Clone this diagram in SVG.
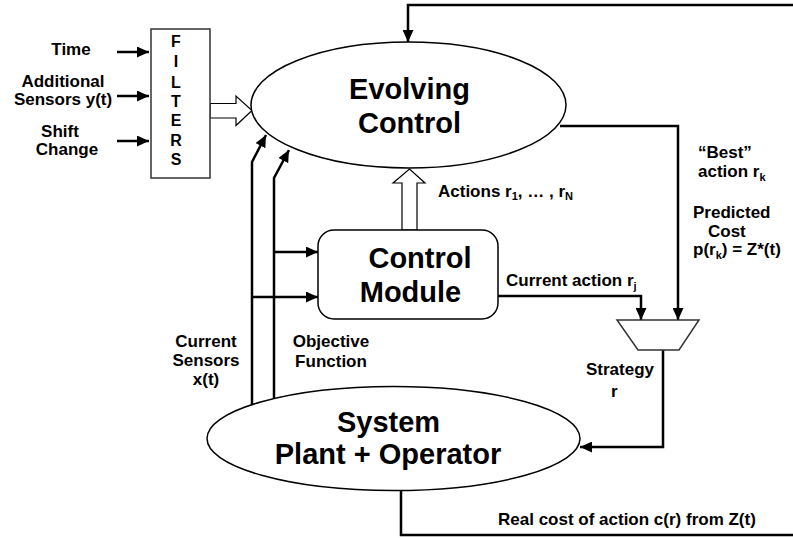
<svg xmlns="http://www.w3.org/2000/svg" width="793" height="538" viewBox="0 0 793 538">
<defs>
<marker id="ah" markerUnits="userSpaceOnUse" markerWidth="12" markerHeight="11" refX="12" refY="5.5" orient="auto">
<path d="M0,0 L12,5.5 L0,11 z" fill="#000"/>
</marker>
<style>
.t{font-family:"Liberation Sans",Arial,sans-serif;font-weight:bold;fill:#000}
.big{font-size:29px}
.lab{font-size:17px}
.shape{fill:#fff;stroke:#000;stroke-width:1.5}
.con{fill:none;stroke:#000;stroke-width:2.5}
.hollow{fill:#fff;stroke:#000;stroke-width:1.2}
</style>
</defs>
<rect width="793" height="538" fill="#fff"/>

<g id="connectors">
<path class="con" d="M117,52 L149,52" marker-end="url(#ah)"/>
<path class="con" d="M117,96 L149,96" marker-end="url(#ah)"/>
<path class="con" d="M117,141 L149,141" marker-end="url(#ah)"/>
<path class="con" d="M793,5 L408,5 L408,42" marker-end="url(#ah)"/>
<path class="con" d="M560,126 L678,126 L678,320" marker-end="url(#ah)"/>
<path class="con" d="M498,296 L641,296 L641,320" marker-end="url(#ah)"/>
<path class="con" d="M663,350 L663,447 L580,447" marker-end="url(#ah)"/>
<path class="con" d="M401,490 L401,535 L793,535"/>
<path class="con" d="M252,405 L252,162 L266,135" marker-end="url(#ah)"/>
<path class="con" d="M274,399 L274,178 L289,150" marker-end="url(#ah)"/>
<path class="con" d="M274,252 L318,252" marker-end="url(#ah)"/>
<path class="con" d="M252,297 L318,297" marker-end="url(#ah)"/>
<polygon class="hollow" points="210,103.5 236,103.5 236,96 252,110.5 236,125.5 236,118 210,118"/>
<polygon class="hollow" points="402,230 402,183 393,183 409.5,169 425,183 417,183 417,230"/>
</g>

<g id="inputs">
<text class="t lab" x="71" y="55" text-anchor="middle">Time</text>
<text class="t lab" x="63" y="87" text-anchor="middle">Additional</text>
<text class="t lab" x="63" y="105" text-anchor="middle">Sensors y(t)</text>
<text class="t lab" x="60" y="137" text-anchor="middle">Shift</text>
<text class="t lab" x="67" y="155" text-anchor="middle">Change</text>
</g>

<g id="filters">
<rect x="151" y="29" width="59" height="149" fill="#fff" stroke="#333" stroke-width="1.5"/>
<g class="t" font-size="16" text-anchor="middle">
<text x="176" y="47">F</text>
<text x="176" y="67">I</text>
<text x="176" y="88">L</text>
<text x="176" y="107">T</text>
<text x="176" y="126">E</text>
<text x="176" y="146">R</text>
<text x="176" y="165">S</text>
</g>
</g>

<g id="evolving-control">
<ellipse class="shape" cx="408.5" cy="105" rx="157.5" ry="63"/>
<text class="t big" x="409.5" y="99" text-anchor="middle">Evolving</text>
<text class="t big" x="409.5" y="133" text-anchor="middle">Control</text>
</g>

<g id="control-module">
<rect class="shape" x="318" y="230" width="180" height="89" rx="16" ry="16"/>
<text class="t big" x="420" y="268" text-anchor="middle">Control</text>
<text class="t big" x="410.5" y="302" text-anchor="middle">Module</text>
</g>

<g id="selector">
<polygon points="617,320 699,320 679,350 638,350" fill="#fff" stroke="#333" stroke-width="1.5"/>
</g>

<g id="system">
<ellipse class="shape" cx="393.5" cy="438.5" rx="186.5" ry="52"/>
<text class="t big" x="388.5" y="432" text-anchor="middle">System</text>
<text class="t big" x="388" y="464" text-anchor="middle">Plant + Operator</text>
</g>

<g id="labels">
<text class="t lab" x="438" y="197">Actions r<tspan font-size="11" dy="3">1</tspan><tspan dy="-3">, … , r</tspan><tspan font-size="11" dy="3">N</tspan></text>
<text class="t lab" x="506" y="286">Current action r<tspan font-size="11" dy="4">j</tspan></text>
<text class="t lab" x="698" y="158">“Best”</text>
<text class="t lab" x="698" y="177">action r<tspan font-size="11" dy="4">k</tspan></text>
<text class="t lab" x="693" y="218">Predicted</text>
<text class="t lab" x="708" y="237">Cost</text>
<text class="t lab" x="693" y="255">p(r<tspan font-size="11" dy="4">k</tspan><tspan dy="-4">) = Z*(t)</tspan></text>
<text class="t lab" x="206" y="347" text-anchor="middle">Current</text>
<text class="t lab" x="206" y="366" text-anchor="middle">Sensors</text>
<text class="t lab" x="206" y="385" text-anchor="middle">x(t)</text>
<text class="t lab" x="331" y="347" text-anchor="middle">Objective</text>
<text class="t lab" x="331" y="367" text-anchor="middle">Function</text>
<text class="t lab" x="620" y="375" text-anchor="middle">Strategy</text>
<text class="t lab" x="611" y="397">r</text>
<text class="t lab" x="498" y="525">Real cost of action c(r) from Z(t)</text>
</g>
</svg>
